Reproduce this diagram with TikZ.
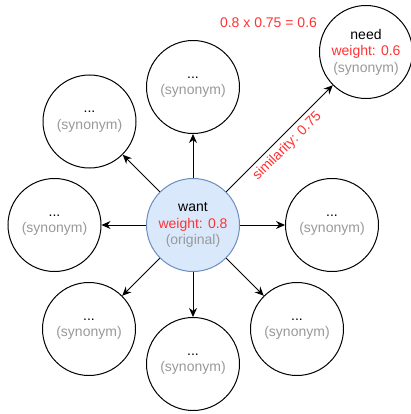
\documentclass[tikz,border=0pt]{standalone}
\usepackage{fontspec}
\setmainfont{Liberation Sans}
\usetikzlibrary{arrows.meta}
\definecolor{wred}{HTML}{FF3333}
\definecolor{syngray}{HTML}{999999}
\definecolor{origfill}{HTML}{DAE8FC}
\definecolor{origline}{HTML}{6C8EBF}
\begin{document}
\begin{tikzpicture}[x=1pt,y=-1pt,
  word/.style={circle, draw=black, line width=1pt, minimum size=93pt, inner sep=0pt,
    align=center, font=\fontsize{14}{16.5}\selectfont},
  origin/.style={word, fill=origfill, draw=origline},
  link/.style={draw=black, line width=1pt, -{Stealth[length=9pt,width=8pt]}},
  redtext/.style={text=wred, font=\fontsize{14}{16.5}\selectfont}
]
\useasboundingbox[fill=white] (0,0) rectangle (411,414);

% central word
\node[origin] (c) at (193,225) {want\\\textcolor{wred}{weight: 0.8}\\\textcolor{syngray}{(original)}};

% synonyms around it
\node[word] (t)  at (193,87)  {...\\\textcolor{syngray}{(synonym)}};
\node[word] (ul) at (89.5,121.5) {...\\\textcolor{syngray}{(synonym)}};
\node[word] (l)  at (54.5,225) {...\\\textcolor{syngray}{(synonym)}};
\node[word] (ll) at (89,329)  {...\\\textcolor{syngray}{(synonym)}};
\node[word] (b)  at (193,364) {...\\\textcolor{syngray}{(synonym)}};
\node[word] (lr) at (297,329) {...\\\textcolor{syngray}{(synonym)}};
\node[word] (r)  at (332,225) {...\\\textcolor{syngray}{(synonym)}};
\node[word] (n)  at (366,52)  {need\\\textcolor{wred}{weight: 0.6}\\\textcolor{syngray}{(synonym)}};

% weight calculation
\node[redtext] (calc) at (268.5,22.5) {0.8 x 0.75 = 0.6};

% connectors
\foreach \s in {t,ul,l,ll,b,lr,r}
  \draw[link] (c) -- (\s);
\draw[link] (c) -- node[redtext, sloped, below=1pt, inner sep=3pt] (sim) {similarity: 0.75} (n);
\end{tikzpicture}
\end{document}
